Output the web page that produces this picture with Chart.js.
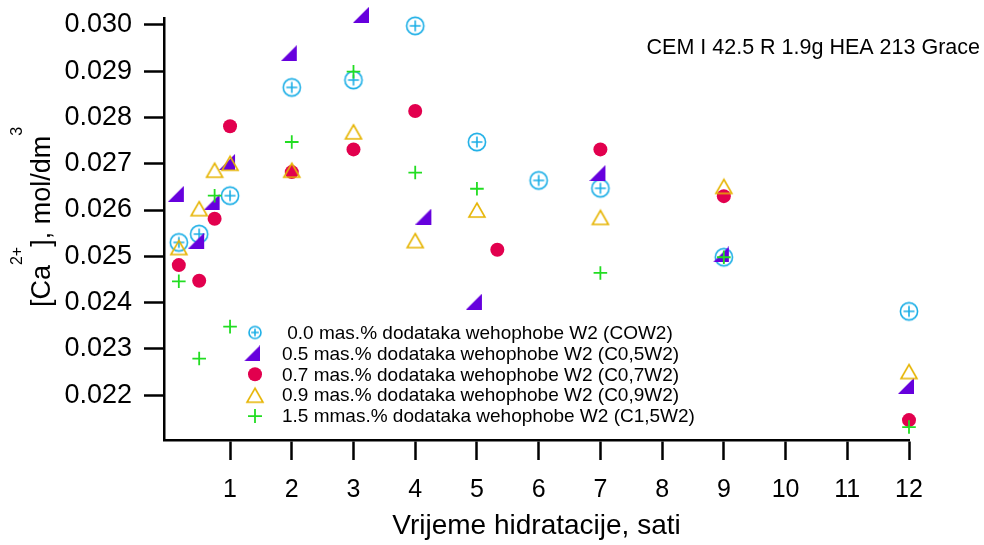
<!DOCTYPE html>
<html>
<head>
<meta charset="utf-8">
<script src="https://cdn.jsdelivr.net/npm/chart.js@4.4.0/dist/chart.umd.min.js"></script>
<style>
  html, body { margin: 0; padding: 0; background: #fff; }
  #wrap { width: 984px; height: 545px; }
</style>
</head>
<body>
<div id="wrap"><canvas id="caChart" width="984" height="545"></canvas></div>
<script>
// hydration time (h) and [Ca2+] (mol/dm3) for each mix
const timesC00 = [0.17, 0.5, 1, 2, 3, 4, 5, 6, 7, 9, 12];
const valuesC00 = [0.02530, 0.02548, 0.02631, 0.02865, 0.02881, 0.02998, 0.02747, 0.02664, 0.02647, 0.02498, 0.02381];

const timesC05 = [0.17, 0.5, 0.75, 1, 2, 3.17, 4.18, 5, 7, 9, 12];
const valuesC05 = [0.02635, 0.02534, 0.02617, 0.02704, 0.02939, 0.03022, 0.02586, 0.02402, 0.02680, 0.02504, 0.02220];

const timesC07 = [0.17, 0.5, 0.75, 1, 2, 3, 4, 5.33, 7, 9, 12];
const valuesC07 = [0.02481, 0.02447, 0.02581, 0.02781, 0.02682, 0.02731, 0.02814, 0.02514, 0.02731, 0.02630, 0.02146];

const timesC09 = [0.17, 0.5, 0.75, 1, 2, 3, 4, 5, 7, 9, 12];
const valuesC09 = [0.02519, 0.02603, 0.02686, 0.02701, 0.02686, 0.02769, 0.02534, 0.02600, 0.02584, 0.02651, 0.02251];

const timesC15 = [0.17, 0.5, 0.75, 1, 2, 3, 4, 5, 7, 9, 12];
const valuesC15 = [0.02446, 0.02279, 0.02631, 0.02348, 0.02747, 0.02899, 0.02681, 0.02646, 0.02464, 0.02498, 0.02131];

const seriesLabels = [
    ' 0.0 mas.% dodataka wehophobe W2 (COW2)',
    '0.5 mas.% dodataka wehophobe W2 (C0,5W2)',
    '0.7 mas.% dodataka wehophobe W2 (C0,7W2)',
    '0.9 mas.% dodataka wehophobe W2 (C0,9W2)',
    '1.5 mmas.% dodataka wehophobe W2 (C1,5W2)'
];

const xTickValues = [1, 2, 3, 4, 5, 6, 7, 8, 9, 10, 11, 12];
const yTickValues = [0.022, 0.023, 0.024, 0.025, 0.026, 0.027, 0.028, 0.029, 0.030];

const xTitle = 'Vrijeme hidratacije, sati';
const noteText = 'CEM I 42.5 R 1.9g HEA 213 Grace';

const FONT = "'Liberation Sans', Arial, sans-serif";
const colCyan = '#1aaee6';
const colPurple = '#6600dd';
const colRed = '#e2004e';
const colYellow = '#e6b400';
const colGreen = '#22dd22';

function toPoints(xs, ys) {
    return xs.map((x, i) => ({ x: x, y: ys[i] }));
}

function makeMarker(w, h, draw) {
    const c = document.createElement('canvas');
    c.width = w;
    c.height = h;
    draw(c.getContext('2d'));
    return c;
}

function circlePlus(size, r, arm) {
    return makeMarker(size, size, g => {
        const m = size / 2;
        g.strokeStyle = colCyan;
        g.lineWidth = 1.6;
        g.beginPath();
        g.arc(m, m, r, 0, Math.PI * 2);
        g.stroke();
        g.beginPath();
        g.moveTo(m - arm, m); g.lineTo(m + arm, m);
        g.moveTo(m, m - arm); g.lineTo(m, m + arm);
        g.stroke();
    });
}

// right triangle, drawn a bit left of the point like the original
function rightTriangle(s) {
    return makeMarker(s + 6, s, g => {
        g.fillStyle = colPurple;
        g.beginPath();
        g.moveTo(0, s);
        g.lineTo(s, s);
        g.lineTo(s, 0);
        g.closePath();
        g.fill();
    });
}

function openTriangle(w, h) {
    return makeMarker(w + 4, h + 4, g => {
        g.strokeStyle = colYellow;
        g.lineWidth = 1.6;
        g.beginPath();
        g.moveTo(2 + w / 2, 2);
        g.lineTo(2 + w, 2 + h);
        g.lineTo(2, 2 + h);
        g.closePath();
        g.stroke();
    });
}

const cyanMarker = circlePlus(22, 8.6, 5.5);
const cyanLegend = circlePlus(16, 6, 3.8);
const purpleMarker = rightTriangle(16);
const yellowMarker = openTriangle(16, 14);

// y title with superscripts
const yTitlePlugin = {
    id: 'yTitle',
    afterDraw(chart) {
        const c = chart.ctx;
        const parts = [['[Ca', 27, 0], ['2+', 16, -28], ['], mol/dm', 27, 0], ['3', 16, -28]];
        c.save();
        c.translate(50, 217);
        c.rotate(-Math.PI / 2);
        c.fillStyle = '#000';
        c.textBaseline = 'alphabetic';
        let total = 0;
        parts.forEach(p => {
            c.font = p[1] + 'px ' + FONT;
            total += c.measureText(p[0]).width;
        });
        let x = -total / 2;
        parts.forEach(p => {
            c.font = p[1] + 'px ' + FONT;
            c.fillText(p[0], x, p[2]);
            x += c.measureText(p[0]).width;
        });
        c.restore();
    }
};

const legendPlugin = {
    id: 'innerLegend',
    afterDraw(chart) {
        const c = chart.ctx;
        const mx = 255, tx = 282, y0 = 332.5, dy = 20.9;
        c.save();
        c.font = '19px ' + FONT;
        c.fillStyle = '#000';
        c.textBaseline = 'middle';
        seriesLabels.forEach((label, i) => {
            const y = y0 + i * dy;
            if (i === 0) c.drawImage(cyanLegend, mx - 8, y - 8);
            if (i === 1) c.drawImage(purpleMarker, mx - 11, y - 8);
            if (i === 2) {
                c.fillStyle = colRed;
                c.beginPath(); c.arc(mx, y, 7, 0, Math.PI * 2); c.fill();
                c.fillStyle = '#000';
            }
            if (i === 3) c.drawImage(yellowMarker, mx - 10, y - 9);
            if (i === 4) {
                c.strokeStyle = colGreen; c.lineWidth = 1.8;
                c.beginPath();
                c.moveTo(mx - 7, y); c.lineTo(mx + 7, y);
                c.moveTo(mx, y - 7); c.lineTo(mx, y + 7);
                c.stroke();
            }
            c.fillText(label, tx, y + 1);
        });
        c.restore();
    }
};

const notePlugin = {
    id: 'note',
    afterDraw(chart) {
        const c = chart.ctx;
        c.save();
        c.font = '21.5px ' + FONT;
        c.fillStyle = '#000';
        c.textAlign = 'right';
        c.textBaseline = 'alphabetic';
        c.fillText(noteText, 980, 54);
        c.restore();
    }
};

const ctx = document.getElementById('caChart').getContext('2d');
new Chart(ctx, {
    type: 'scatter',
    data: {
        datasets: [{
            label: seriesLabels[0],
            data: toPoints(timesC00, valuesC00),
            pointStyle: cyanMarker,
            pointRadius: 9,
            order: 4,
            clip: false
        }, {
            label: seriesLabels[1],
            data: toPoints(timesC05, valuesC05),
            pointStyle: purpleMarker,
            pointRadius: 8,
            order: 3,
            clip: false
        }, {
            label: seriesLabels[2],
            data: toPoints(timesC07, valuesC07),
            pointStyle: 'circle',
            pointRadius: 7,
            backgroundColor: colRed,
            borderWidth: 0,
            order: 2,
            clip: false
        }, {
            label: seriesLabels[3],
            data: toPoints(timesC09, valuesC09),
            pointStyle: yellowMarker,
            pointRadius: 8,
            order: 1,
            clip: false
        }, {
            label: seriesLabels[4],
            data: toPoints(timesC15, valuesC15),
            pointStyle: 'cross',
            pointRadius: 6.8,
            borderColor: colGreen,
            borderWidth: 1.8,
            order: 0,
            clip: false
        }]
    },
    options: {
        responsive: false,
        animation: false,
        events: [],
        layout: { padding: { top: 18, right: 75, left: 0, bottom: 0 } },
        plugins: {
            legend: { display: false },
            tooltip: { enabled: false }
        },
        scales: {
            x: {
                type: 'linear',
                min: -0.07,
                max: 12,
                afterBuildTicks: s => { s.ticks = xTickValues.map(v => ({ value: v })); },
                afterFit: s => { s.height = 105; s.paddingLeft = 0; s.paddingRight = 0; },
                grid: { drawOnChartArea: false, tickLength: 20, tickWidth: 2.5, tickColor: '#000' },
                border: { color: '#000', width: 2.5 },
                ticks: { color: '#000', font: { family: FONT, size: 25 }, padding: 15, maxRotation: 0, autoSkip: false },
                title: { display: true, text: xTitle, color: '#000', font: { family: FONT, size: 28 }, padding: { top: 0, bottom: 2 } }
            },
            y: {
                type: 'linear',
                min: 0.02103,
                max: 0.03015,
                afterBuildTicks: s => { s.ticks = yTickValues.map(v => ({ value: v })); },
                afterFit: s => { s.width = 164; s.paddingTop = 0; s.paddingBottom = 0; },
                grid: { drawOnChartArea: false, tickLength: 20, tickWidth: 2.5, tickColor: '#000' },
                border: { color: '#000', width: 2.5 },
                ticks: {
                    color: '#000',
                    font: { family: FONT, size: 27 },
                    padding: 12,
                    callback: v => v.toFixed(3)
                }
            }
        }
    },
    plugins: [yTitlePlugin, legendPlugin, notePlugin]
});
</script>
</body>
</html>
